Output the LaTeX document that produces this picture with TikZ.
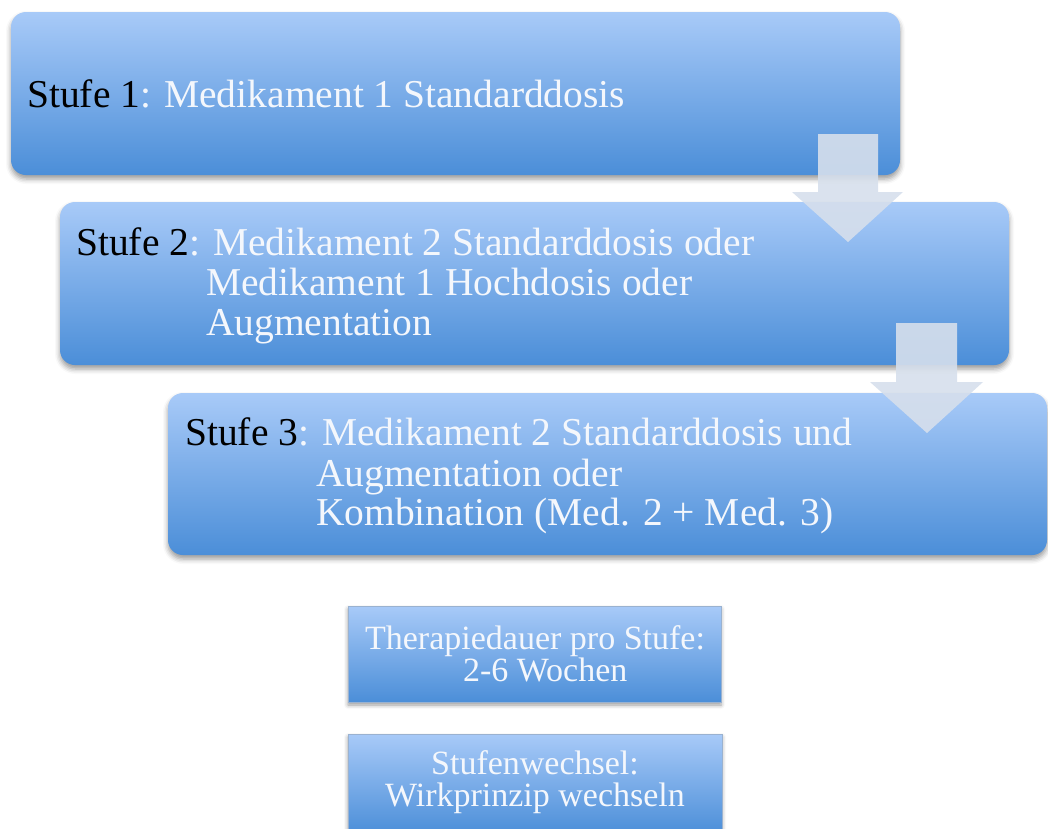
\documentclass[tikz,border=0pt]{standalone}
\usepackage{fontspec}
\setmainfont{Liberation Serif}
\usetikzlibrary{shadows,shadows.blur}
\definecolor{boxtop}{HTML}{A8CAF8}
\definecolor{boxbot}{HTML}{4B8ED8}
\definecolor{arrowfill}{HTML}{D6DFEC}
\definecolor{boxedge}{HTML}{9AB2D0}
\definecolor{softwhite}{HTML}{F4F7FC}
\tikzset{
  stage/.style={rounded corners=15pt, top color=boxtop, bottom color=boxbot,
    blur shadow={shadow xshift=0pt, shadow yshift=-4pt, shadow blur radius=5pt, shadow opacity=40}},
  info/.style={top color=boxtop, bottom color=boxbot, draw=boxedge, line width=0.6pt,
    blur shadow={shadow xshift=0pt, shadow yshift=-3pt, shadow blur radius=4pt, shadow opacity=40}},
  blockarrow/.style={fill=arrowfill, fill opacity=0.9, draw=none},
  big/.style={anchor=base west, inner sep=0pt, text=softwhite, font=\fontsize{39.5}{40}\selectfont},
  small/.style={align=center, inner sep=0pt, text=softwhite, font=\fontsize{34}{32}\selectfont}
}
\begin{document}
\begin{tikzpicture}[x=1pt,y=-1pt]
\useasboundingbox (0,0) rectangle (1048,828);
% stage boxes
\path[stage] (11,12) rectangle (900,175);
\path[stage] (60,202) rectangle (1009,365);
\path[blockarrow] (818,134) -- (878,134) -- (878,192) -- (903,192) -- (848,242) -- (792,192) -- (818,192) -- cycle;
\path[stage] (168,393) rectangle (1047,555);
\path[blockarrow] (896,323) -- (957,323) -- (957,382) -- (983,382) -- (927,433) -- (870,382) -- (896,382) -- cycle;
% texts
\node[big] (s1) at (27,107) {\textcolor{black}{Stufe 1}: Medikament 1 Standarddosis};
\node[big] (s2a) at (76,255) {\textcolor{black}{Stufe 2}: Medikament 2 Standarddosis oder};
\node[big] (s2b) at (206,295) {Medikament 1 Hochdosis oder};
\node[big] (s2c) at (206,335) {Augmentation};
\node[big] (s3a) at (185,445) {\textcolor{black}{Stufe 3}: Medikament 2 Standarddosis und};
\node[big] (s3b) at (316,486) {Augmentation oder};
\node[big] (s3c) at (316,525) {Kombination (Med. 2 + Med. 3)};
% info boxes
\path[info] (348,606) rectangle (721,702);
\node[small] (dauer) at (535,654) {Therapiedauer pro Stufe:\\ \hspace*{0.6em}2-6 Wochen};
\path[info] (348,734) rectangle (722,834);
\node[small] (wechsel) at (535,782) {Stufenwechsel:\\Wirkprinzip wechseln};
\end{tikzpicture}
\end{document}
